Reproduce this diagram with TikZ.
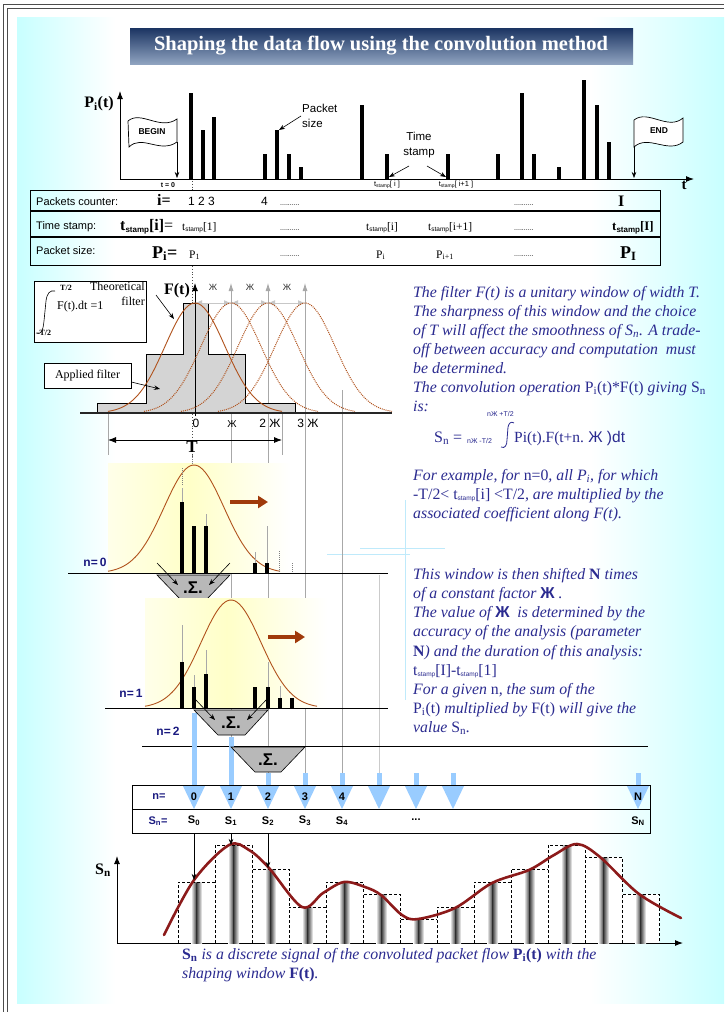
\documentclass[tikz,border=0pt]{standalone}
\usepackage{fontspec}
\setmainfont{Liberation Serif}
\setsansfont{Liberation Sans}
\usetikzlibrary{arrows.meta,calc}
\definecolor{txtblue}{HTML}{2B2B90}
\definecolor{navy}{HTML}{1A1A80}
\definecolor{fbrown}{HTML}{B0521C}
\definecolor{abrown}{HTML}{A03A0A}
\definecolor{lblue}{HTML}{99CCFF}
\definecolor{cyanbg}{HTML}{C8FFFF}
\definecolor{curvered}{HTML}{8C1A1A}
\definecolor{ttop}{HTML}{1B3462}
\definecolor{tbot}{HTML}{8FA3C0}
\definecolor{glight}{HTML}{A8A8A8}
\definecolor{pyellow}{HTML}{FFFFC8}
\newcommand\tstmp[1]{{\upshape t\raisebox{-1.5pt}{\sffamily\fontsize{6.5}{7}\selectfont stamp}[#1]}}
\newcommand\tstmpb[1]{{\bfseries t\raisebox{-2pt}{\sffamily\bfseries\fontsize{8}{8}\selectfont stamp}[#1]}}
\begin{document}
\begin{tikzpicture}[x=1pt,y=-1pt,
  txt/.style={inner sep=0pt, anchor=base west},
  para/.style={txt, text=txtblue, font=\fontsize{15.8}{19}\selectfont\itshape},
  sfs/.style={inner sep=0pt, font=\sffamily\fontsize{11}{13}\selectfont},
  serifs/.style={inner sep=0pt, font=\fontsize{11.5}{13}\selectfont},
  pbar/.style={line width=3.2pt},
  fbar/.style={line width=4pt},
  gl/.style={draw=glight, line width=0.8pt},
  arr/.style={-{Stealth[length=6pt,width=4.5pt]}, line width=0.6pt},
  nlab/.style={inner sep=0pt, text=navy, font=\sffamily\bfseries\fontsize{12}{12}\selectfont},
  sumbox/.style={fill=black!28, draw=black, line width=0.6pt},
  sumtxt/.style={inner sep=0pt, font=\sffamily\bfseries\fontsize{17}{17}\selectfont},
  dots/.style={inner sep=0pt, font=\sffamily\fontsize{7}{7}\selectfont},
]
\useasboundingbox (0,0) rectangle (724,1012);
% ---------- background ----------
\fill[white] (0,0) rectangle (724,1012);
\shade[left color=cyanbg, right color=white] (17,17) rectangle (115,1003);
\shade[left color=white, right color=cyanbg] (590,17) rectangle (724,1003);
\draw[black!70, line width=0.9pt] (3,1012) -- (3,4) -- (724,4);
\draw[black!70, line width=0.6pt] (7,1012) -- (7,8) -- (724,8);
% faint decorative lines
\draw[cyan!25, line width=1pt] (405,500) -- (405,700);
\draw[cyan!25, line width=1pt] (360,548) -- (445,548);
\draw[cyan!25, line width=1pt] (327,554) -- (410,554);
% ---------- title ----------
\shade[top color=ttop, bottom color=tbot] (130,28) rectangle (633,64);
\node[text=white, inner sep=0pt, font=\fontsize{20.5}{20.5}\selectfont\bfseries] (title) at (381,46) {Shaping the data flow using the convolution method};
% ---------- packet flow ----------
\draw[-{Latex[length=8pt,width=6pt]}, line width=1pt] (120,179) -- (120,91);
\draw[-{Latex[length=8pt,width=6pt]}, line width=1pt] (120,179) -- (694,179);
\node[inner sep=0pt, font=\fontsize{16}{16}\selectfont\bfseries] (pit) at (99,104) {P\textsubscript{i}(t)};
\node[inner sep=0pt, font=\fontsize{15}{15}\selectfont\bfseries] (tax) at (684,185) {t};
\foreach \x/\t [count=\i] in {191/93,203/130,214/117,265/154,277/130,289/154,301/167,362/105,387/154,448/154,498/154,522/93,534/154,559/167,584/80,597/105,609/142}
  \draw[pbar] (\x,179) -- (\x,\t);
% flags
\draw[fill=white, line width=0.7pt] (128,121) .. controls (141,110) and (160,131) .. (177,119) -- (177,142) .. controls (160,154) and (142,134) .. (129,147) -- cycle;
\node[inner sep=0pt, font=\sffamily\bfseries\fontsize{8.5}{9}\selectfont] (begin) at (152,132) {BEGIN};
\coordinate (bpole) at (177,142);
\coordinate (bfoot) at (177,178);
\draw[arr] (bpole) -- (bfoot);
\draw[fill=white, line width=0.7pt] (634,120) .. controls (648,109) and (668,131) .. (683,118) -- (683,142) .. controls (668,154) and (648,134) .. (634,147) -- cycle;
\node[inner sep=0pt, font=\sffamily\bfseries\fontsize{8.5}{9}\selectfont] (endf) at (659,131) {END};
\coordinate (epole) at (634,147);
\coordinate (efoot) at (634,178);
\draw[arr] (epole) -- (efoot);
% packet size / time stamp
\node[sfs, align=left, anchor=north west, font=\sffamily\fontsize{11.5}{15}\selectfont] (psize) at (302,104) {Packet\\size};
\coordinate (psz) at (279,130);
\draw[arr] (301,116) -- (psz);
\node[sfs, align=center, font=\sffamily\fontsize{11.5}{15}\selectfont] (tstamp) at (419,145) {Time\\stamp};
\coordinate (tsa) at (389,177);
\coordinate (tsb) at (446,177);
\draw[arr] (409,166) -- (tsa);
\draw[arr] (427,166) -- (tsb);
\node[inner sep=0pt, font=\sffamily\bfseries\fontsize{7}{7}\selectfont] (t0) at (168,185) {t = 0};
\node[inner sep=0pt, font=\sffamily\fontsize{7.5}{8}\selectfont] (tsi) at (387,185) {t\raisebox{-1pt}{\fontsize{5}{5}\selectfont stamp}[ i ]};
\node[inner sep=0pt, font=\sffamily\fontsize{7.5}{8}\selectfont] (tsi1) at (456,185) {t\raisebox{-1pt}{\fontsize{5}{5}\selectfont stamp}[ i+1 ]};
\draw[black!70, dotted, line width=0.8pt] (192,181) -- (192,190);
\draw[black!70, dotted, line width=0.8pt] (192,266) -- (192,462);
% ---------- table ----------
\draw[line width=0.8pt] (30,190) rectangle (660,265);
\draw[line width=1.3pt] (30,211) -- (660,211);
\draw[line width=1.3pt] (30,237) -- (660,237);
\node[sfs, txt] (r1a) at (36,205) {Packets counter:};
\node[txt, font=\fontsize{16}{16}\selectfont\bfseries] (r1b) at (157,205) {i=};
\node[sfs, txt, font=\sffamily\fontsize{12}{12}\selectfont] (r1c) at (188,205) {1 2 3};
\node[sfs, txt, font=\sffamily\fontsize{12}{12}\selectfont] (r1d) at (261,205) {4};
\node[dots, txt] (r1e) at (280,205) {..........};
\node[dots, txt] (r1f) at (514,205) {..........};
\node[txt, font=\fontsize{16}{16}\selectfont\bfseries] (r1g) at (618,206) {I};
\node[sfs, txt] (r2a) at (36,229) {Time stamp:};
\node[txt, font=\fontsize{16}{16}\selectfont] (r2b) at (120,230) {\tstmpb{i}=};
\node[serifs, txt] (r2c) at (182,230) {\tstmp{1}};
\node[dots, txt] (r2d) at (280,230) {..........};
\node[serifs, txt] (r2e) at (366,230) {\tstmp{i}};
\node[serifs, txt] (r2f) at (428,230) {\tstmp{i+1}};
\node[dots, txt] (r2g) at (514,230) {..........};
\node[txt, font=\fontsize{13}{13}\selectfont] (r2h) at (612,230) {\tstmpb{I}};
\node[sfs, txt] (r3a) at (36,254) {Packet size:};
\node[txt, font=\fontsize{18}{18}\selectfont\bfseries] (r3b) at (152,258) {P\textsubscript{i}=};
\node[serifs, txt] (r3c) at (189,258) {P\textsubscript{1}};
\node[dots, txt] (r3d) at (280,256) {..........};
\node[serifs, txt] (r3e) at (376,258) {P\textsubscript{i}};
\node[serifs, txt] (r3f) at (436,258) {P\textsubscript{i+1}};
\node[dots, txt] (r3g) at (514,256) {..........};
\node[txt, font=\fontsize{18}{18}\selectfont\bfseries] (r3h) at (620,258) {P\textsubscript{I}};
% ---------- long grey guide lines ----------
\foreach \x in {231,268,305}
  \draw[gl, -{Latex[length=8pt,width=5pt]}] (\x,785) -- (\x,283);
\draw[gl] (342,390) -- (342,785);
\draw[draw=glight!60, line width=0.8pt] (379,575) -- (379,785);
\draw[gl] (108,414) -- (108,455);
\draw[gl] (282,414) -- (282,455);
% ---------- filter ----------
\draw[fill=black!17, line width=0.6pt] (97,413) -- (97,403) -- (146,403) -- (146,354) -- (183,354) -- (183,303) -- (208,303) -- (208,354) -- (245,354) -- (245,403) -- (295,403) -- (295,413) -- cycle;
\draw[black!85, line width=1.2pt] (80,413) -- (392,413);
\draw[-{Latex[length=8pt,width=6pt]}, line width=1pt] (195,416) -- (195,283);
\node[inner sep=0pt, font=\fontsize{16}{16}\selectfont\bfseries] (ft) at (177,291) {F(t)};
\foreach \a/\b in {195/231,231/268,268/305}
  \draw[draw=black!22, line width=1pt, {Latex[length=7pt,width=6pt]}-{Latex[length=7pt,width=6pt]}] (\a,303) -- (\b,303);
\foreach \x/\lab in {213/a,250/b,287/c}
  \node[inner sep=0pt, font=\sffamily\fontsize{9}{9}\selectfont, text=black!80] (zh\lab) at (\x,287) {Ж};
\draw[fbrown, line width=0.9pt] plot[domain=-87:87, samples=70, smooth] ({195+\x},{413-110*exp(-(\x*\x)/1800)});
\foreach \c in {231,268,305}
  \draw[fbrown, densely dotted, line width=1pt] plot[domain=-87:87, samples=70, smooth] ({\c+\x},{413-110*exp(-(\x*\x)/1800)});
\node[inner sep=0pt, font=\sffamily\fontsize{12}{12}\selectfont] (ax0) at (196,423) {0};
\node[inner sep=0pt, font=\sffamily\fontsize{10}{12}\selectfont] (ax1) at (232,424) {Ж};
\node[inner sep=0pt, font=\sffamily\fontsize{12}{12}\selectfont] (ax2) at (270,423) {2 Ж};
\node[inner sep=0pt, font=\sffamily\fontsize{12}{12}\selectfont] (ax3) at (308,423) {3 Ж};
\coordinate (tl) at (108,440);
\coordinate (tr) at (282,440);
\draw[line width=0.8pt, {Latex[length=8pt,width=6pt]}-{Latex[length=8pt,width=6pt]}] (tl) -- (tr);
\node[inner sep=0pt, font=\fontsize{17}{17}\selectfont\bfseries] (Tl) at (192,447) {T};
% inset
\draw[fill=white, line width=0.6pt] (34,281) rectangle (146,342);
\draw[line width=0.6pt] (36,333) .. controls (41,335) and (43,331) .. (44,321) -- (46,301) .. controls (47,293) and (50,290) .. (55,291);
\node[inner sep=0pt, font=\fontsize{8}{8}\selectfont\bfseries] (tup) at (66,288) {T/2};
\node[inner sep=0pt, font=\fontsize{8}{8}\selectfont\bfseries] (tdn) at (44,333) {-T/2};
\node[txt, font=\fontsize{12}{12}\selectfont] (fdt) at (57,309) {F(t).dt =1};
\node[inner sep=0pt, anchor=base east, font=\fontsize{12}{12}\selectfont] (theo1) at (145,290) {Theoretical};
\node[inner sep=0pt, anchor=base east, font=\fontsize{12}{12}\selectfont] (theo2) at (145,305) {filter};
\coordinate (theoT) at (174,319);
\draw[arr] (156,295) -- (theoT);
\node[draw, fill=white, line width=0.6pt, inner sep=0pt, minimum width=87pt, minimum height=25pt, font=\fontsize{12}{12}\selectfont] (applied) at (87.5,375.5) {Applied filter};
\coordinate (appT) at (160,389);
\draw[arr] (applied.east |- 0,382) -- (appT);
% ---------- right text 1 ----------
\node[para] (pa1) at (413,297) {The filter F(t) is a unitary window of width T.};
\node[para] (pa2) at (413,316) {The sharpness of this window and the choice};
\node[para] (pa3) at (413,335) {of T will affect the smoothness of S\textsubscript{n}. A trade-};
\node[para] (pa4) at (413,354) {off between accuracy and computation \ must};
\node[para] (pa5) at (413,373) {be determined.};
\node[para] (pa6) at (413,392) {The convolution operation {\upshape P\textsubscript{i}(t)*F(t)} giving {\upshape S\textsubscript{n}}};
\node[para] (pa7) at (413,411) {is:};
\node[txt, text=txtblue, font=\fontsize{16}{16}\selectfont] (fS) at (434,442) {S\textsubscript{n} =};
\node[txt, text=txtblue, font=\sffamily\fontsize{7}{7}\selectfont] (flo) at (467,443) {nЖ -T/2};
\node[txt, text=txtblue, font=\sffamily\fontsize{7}{7}\selectfont] (fhi) at (487,416) {nЖ +T/2};
\draw[txtblue, line width=0.8pt] (501,447) .. controls (505,449) and (507,445) .. (507,440) -- (508,427) .. controls (509,423) and (511,421) .. (514,423);
\node[txt, text=txtblue, font=\fontsize{15.5}{16}\selectfont] (fint) at (514,442) {Pi(t).F(t+n.{\sffamily\ Ж )dt}};
% ---------- n = 0 ----------
\fill[white] (108,463) rectangle (290,573);
\shade[left color=pyellow!40, right color=pyellow] (108,463) rectangle (190,573);
\shade[left color=pyellow, right color=white] (190,463) rectangle (290,573);
\draw[line width=0.9pt] (68,573) -- (388,573);
\node[nlab] (n0) at (95,562) {n=\,0};
\draw[fbrown, line width=0.9pt] plot[domain=-86:86, samples=70, smooth] ({194+\x},{573-108*exp(-(\x*\x)/1800)});
\draw[gl] (182,502) -- (182,488);
\draw[gl] (206,526) -- (206,514);
\draw[draw=black!50, densely dotted, line width=1pt] (182,485) -- (182,468);
\draw[draw=black!50, densely dotted, line width=1pt] (192,455) -- (192,464);
\draw[fbar] (182,573) -- (182,502);
\draw[fbar] (194,573) -- (194,526);
\draw[fbar] (206,573) -- (206,526);
\draw[gl] (255,563) -- (255,552);
\draw[gl] (267,563) -- (267,526);
\draw[fbar] (255,573) -- (255,563);
\draw[fbar] (267,573) -- (267,563);
\draw[draw=black!50, densely dotted, line width=1pt] (279,551) -- (279,573);
\draw[draw=black!50, densely dotted, line width=1pt] (292,563) -- (292,573);
\draw[abrown, line width=3.5pt, -{Triangle[length=10pt,width=12pt]}] (230,502) -- (268,502);
\draw[sumbox] (157,575) -- (230,575) -- (206,600) -- (181,600) -- cycle;
\node[sumtxt] (sum0) at (193,588) {.Σ.};
\draw[arr] (157,563) -- (178,585);
\draw[arr] (230,563) -- (209,585);
% ---------- n = 1 ----------
\fill[white] (145,598) rectangle (327,708);
\shade[left color=pyellow!40, right color=pyellow] (145,598) rectangle (227,708);
\shade[left color=pyellow, right color=white] (227,598) rectangle (327,708);
\draw[line width=0.9pt] (105,708) -- (388,708);
\node[nlab] (n1) at (131,693) {n=\,1};
\draw[fbrown, line width=0.9pt] plot[domain=-86:86, samples=70, smooth] ({231+\x},{708-108*exp(-(\x*\x)/1800)});
\draw[gl] (182,662) -- (182,625);
\draw[gl] (194,687) -- (194,675);
\draw[gl] (206,674) -- (206,650);
\draw[gl] (268,687) -- (268,662);
\draw[gl] (280,698) -- (280,686);
\draw[fbar] (182,708) -- (182,662);
\draw[fbar] (194,708) -- (194,687);
\draw[fbar] (206,708) -- (206,674);
\draw[fbar] (255,708) -- (255,687);
\draw[fbar] (268,708) -- (268,687);
\draw[fbar] (280,708) -- (280,698);
\draw[fbar] (292,708) -- (292,698);
\draw[abrown, line width=3.5pt, -{Triangle[length=10pt,width=12pt]}] (268,637) -- (305,637);
% ---------- n = 2 ----------
\draw[line width=0.9pt] (142,746) -- (648,746);
\node[nlab] (n2) at (168,731) {n=\,2};
% blue stems
\fill[lblue] (191.5,713) rectangle (196.5,786);
\fill[lblue] (228.5,737) rectangle (233.5,786);
\foreach \x in {268,305,342,379,416,453,638}
  \fill[lblue] (\x-2.5,773) rectangle (\x+2.5,786);
\draw[sumbox] (194,710) -- (268,710) -- (245,735) -- (218,735) -- cycle;
\node[sumtxt] (sum1) at (231,723) {.Σ.};
\draw[arr] (194,698) -- (215,720);
\draw[arr] (268,698) -- (247,720);
\draw[sumbox] (231,747) -- (305,747) -- (281,772) -- (255,772) -- cycle;
\node[sumtxt] (sum2) at (268,760) {.Σ.};
% ---------- lower right text ----------
\node[para] (pb1) at (413,480) {For example, for {\upshape n=0}, all P\textsubscript{i}, for which};
\node[para] (pb2) at (413,499) {{\upshape -T/2< \tstmp{i} <T/2}, are multiplied by the};
\node[para] (pb3) at (413,518) {associated coefficient along F(t).};
\node[para] (pc1) at (413,579) {This window is then shifted {\upshape\bfseries N} times};
\node[para] (pc2) at (413,598) {of a constant factor {\upshape\bfseries\sffamily Ж} .};
\node[para] (pc3) at (413,617) {The value of {\upshape\bfseries\sffamily Ж} \ is determined by the};
\node[para] (pc4) at (413,636) {accuracy of the analysis (parameter};
\node[para] (pc5) at (413,656) {{\upshape\bfseries N}) and the duration of this analysis:};
\node[para] (pc6) at (413,675) {\tstmp{I}-\tstmp{1}};
\node[para] (pc7) at (413,694) {For a given {\upshape n}, the sum of the};
\node[para] (pc8) at (413,713) {{\upshape P\textsubscript{i}(t)} multiplied by {\upshape F(t)} will give the};
\node[para] (pc9) at (413,732) {value {\upshape S\textsubscript{n}}.};
% ---------- n / Sn table ----------
\draw[line width=0.8pt] (132,785) rectangle (650,833);
\draw[line width=0.8pt] (132,809) -- (650,809);
\foreach \x in {194,231,268,305,342,379,416,453,638}
  \fill[lblue] (\x-11,786) -- (\x+11,786) -- (\x,809) -- cycle;
\node[nlab, font=\sffamily\bfseries\fontsize{11}{11}\selectfont] (neq) at (159,797) {n=};
\node[nlab, font=\sffamily\bfseries\fontsize{11}{11}\selectfont] (seq) at (158,821) {S\textsubscript{n}=};
\foreach \x/\v in {194/0,231/1,268/2,305/3,342/4,638/N}
  \node[inner sep=0pt, font=\sffamily\bfseries\fontsize{11}{11}\selectfont] (nv\v) at (\x,797) {\v};
\foreach \x/\v in {194/0,231/1,268/2,305/3,342/4,638/N}
  \node[inner sep=0pt, font=\sffamily\bfseries\fontsize{11}{11}\selectfont] (sv\v) at (\x,821) {S\textsubscript{\v}};
\node[inner sep=0pt, font=\sffamily\bfseries\fontsize{11}{11}\selectfont] (sdots) at (416,820) {...};
% ---------- Sn plot ----------
\draw[-{Latex[length=8pt,width=6pt]}, line width=1pt] (117,943) -- (117,856);
\draw[-{Latex[length=8pt,width=6pt]}, line width=1pt] (117,943) -- (683,943);
\node[inner sep=0pt, font=\fontsize{16}{16}\selectfont\bfseries] (snl) at (103,870) {S\textsubscript{n}};
\foreach \t [count=\k from 0] in {882,845,869,907,882,894,919,907,882,869,845,857,894} {
  \pgfmathsetmacro\xl{178+37*\k}
  \pgfmathsetmacro\xc{196.5+37*\k}
  \fill[white] (\xl,\t) rectangle (\xl+37,943);
  \shade[left color=white, right color=black!75] (\xc-5.5,\t) rectangle (\xc,943);
  \shade[left color=black!75, right color=white] (\xc,\t) rectangle (\xc+5.5,943);
  \draw[densely dashed, line width=0.6pt] (\xl,943) -- (\xl,\t) -- (\xl+37,\t) -- (\xl+37,943);
}
\draw[curvered, line width=2.6pt, line cap=round] plot[smooth, tension=0.55] coordinates {(164,935) (194,880) (229,845) (249,850) (269,868) (302,907) (323,893) (344,882) (365,887) (381,895) (402,915) (418,919) (455,908) (492,883) (529,870) (554,855) (577,844) (600,857) (639,894) (681,918)};
\coordinate (sa) at (194,880);
\coordinate (sb) at (231,845);
\coordinate (sc) at (268,868);
\draw[arr] (sv0.south |- 0,833) -- (sa);
\draw[arr] (sv1.south |- 0,833) -- (sb);
\draw[arr] (sv2.south |- 0,833) -- (sc);
% caption
\node[para] (cap1) at (182,959) {{\upshape\bfseries S\textsubscript{n}} is a discrete signal of the convoluted packet flow {\upshape\bfseries P\textsubscript{i}(t)} with the};
\node[para] (cap2) at (182,978) {shaping window {\upshape\bfseries F(t)}.};
\end{tikzpicture}
\end{document}
